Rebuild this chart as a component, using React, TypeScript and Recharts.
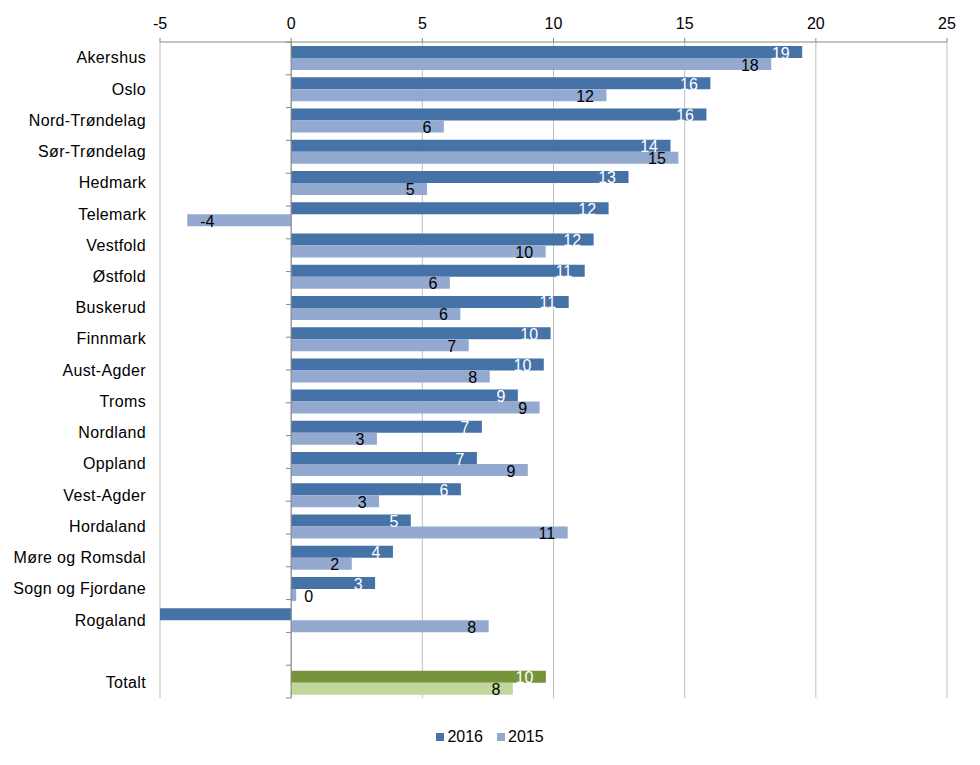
import React from 'react';
import { BarChart, Bar, XAxis, YAxis, CartesianGrid, ReferenceLine, LabelList, Cell, Legend } from 'recharts';

const categories = [
  'Akershus', 'Oslo', 'Nord-Trøndelag', 'Sør-Trøndelag', 'Hedmark', 'Telemark', 'Vestfold',
  'Østfold', 'Buskerud', 'Finnmark', 'Aust-Agder', 'Troms', 'Nordland', 'Oppland', 'Vest-Agder',
  'Hordaland', 'Møre og Romsdal', 'Sogn og Fjordane', 'Rogaland', ' ', 'Totalt',
];
const values2016 = [19.48, 15.98, 15.83, 14.46, 12.86, 12.1, 11.53, 11.19, 10.58, 9.89, 9.63, 8.64, 7.27, 7.08, 6.47, 4.56, 3.88, 3.2, -8, null, 9.71];
const values2015 = [18.3, 12.02, 5.82, 14.76, 5.18, -3.96, 9.7, 6.05, 6.45, 6.77, 7.57, 9.47, 3.27, 9.02, 3.35, 10.54, 2.31, 0.19, 7.53, null, 8.45];
const xTicks = [-5, 0, 5, 10, 15, 20, 25];
const seriesNames = ['2016', '2015'];
const highlighted = ['Totalt'];

const COLORS = {
  s2016: '#4572A7',
  s2015: '#93A9CF',
  h2016: '#77933C',
  h2015: '#C3D69B',
};
const FONT = '"Liberation Sans", Arial, sans-serif';
const X_MIN = xTicks[0];
const X_MAX = xTicks[xTicks.length - 1];

const data = categories.map((name, i) => ({ name, v2016: values2016[i], v2015: values2015[i] }));
const boundaries = categories.map((_, i) => i).concat([categories.length]);

const XTick = (props: any) => {
  const { x, y, payload } = props;
  return (
    <text x={x} y={y - 7.5} textAnchor="middle" fontSize={16} fontFamily={FONT} fill="#000">
      {payload.value}
    </text>
  );
};

const YTick = (props: any) => {
  const { x, y, payload } = props;
  return (
    <text x={x} y={y} dy={5.7} textAnchor="end" fontSize={16} fontFamily={FONT} fill="#000" letterSpacing={0.35}>
      {payload.value}
    </text>
  );
};

const makeLabel = (color: string) => (props: any) => {
  const { x, y, width, height, value } = props;
  if (value === null || value === undefined || value < X_MIN) return null;
  const left = Math.min(x, x + width);
  const right = Math.max(x, x + width);
  const cy = y + height / 2 + 1;
  const fits = right - left > 30;
  const anchorEnd = value >= 0 && fits;
  return (
    <text
      x={anchorEnd ? right - 12.5 : left + 13}
      y={cy}
      dominantBaseline="central"
      textAnchor={anchorEnd ? 'end' : 'start'}
      fontSize={16}
      fontFamily={FONT}
      fill={color}
    >
      {Math.round(value).toFixed(0)}
    </text>
  );
};

const renderLegend = () => (
  <div style={{ display: 'flex', justifyContent: 'center', alignItems: 'center', fontFamily: FONT, fontSize: 16, lineHeight: '20px', color: '#000' }}>
    {seriesNames.map((n, i) => (
      <div key={n} style={{ display: 'flex', alignItems: 'center', marginRight: i === 0 ? 14 : 0 }}>
        <span style={{ display: 'inline-block', width: 8, height: 8, background: i === 0 ? COLORS.s2016 : COLORS.s2015, marginRight: 3 }} />
        <span>{n}</span>
      </div>
    ))}
  </div>
);

export default function App() {
  return (
    <BarChart
      width={964}
      height={749}
      data={data}
      layout="vertical"
      margin={{ top: 0, right: 25, bottom: 59, left: 0 }}
      barSize={12}
      barGap={0}
      style={{ fontFamily: FONT }}
    >
      <CartesianGrid horizontal={false} stroke="#C0C0C0" />
      <XAxis
        type="number"
        orientation="top"
        domain={[X_MIN, X_MAX]}
        ticks={xTicks}
        allowDataOverflow
        interval={0}
        height={34}
        stroke="#868686"
        tickSize={4}
        tick={<XTick />}
      />
      <YAxis
        type="category"
        dataKey="name"
        width={152}
        axisLine={false}
        tickLine={false}
        tickSize={0}
        tickMargin={14}
        interval={0}
        tick={<YTick />}
      />
      <YAxis yAxisId="grid" type="number" domain={[0, categories.length]} hide />
      <ReferenceLine x={0} stroke="#868686" />
      {boundaries.map((b) => (
        <ReferenceLine
          key={b}
          yAxisId="grid"
          segment={[{ x: -0.2, y: b }, { x: 0, y: b }]}
          stroke="#868686"
        />
      ))}
      <Bar dataKey="v2016" name={seriesNames[0]} fill={COLORS.s2016} isAnimationActive={false}>
        {data.map((d) => (
          <Cell key={d.name} fill={highlighted.includes(d.name) ? COLORS.h2016 : COLORS.s2016} />
        ))}
        <LabelList dataKey="v2016" content={makeLabel('#FFFFFF')} />
      </Bar>
      <Bar dataKey="v2015" name={seriesNames[1]} fill={COLORS.s2015} isAnimationActive={false}>
        {data.map((d) => (
          <Cell key={d.name} fill={highlighted.includes(d.name) ? COLORS.h2015 : COLORS.s2015} />
        ))}
        <LabelList dataKey="v2015" content={makeLabel('#000000')} />
      </Bar>
      <Legend
        layout="horizontal"
        verticalAlign="middle"
        align="center"
        wrapperStyle={{ top: 719, left: 0, width: 964 }}
        content={renderLegend}
      />
    </BarChart>
  );
}
